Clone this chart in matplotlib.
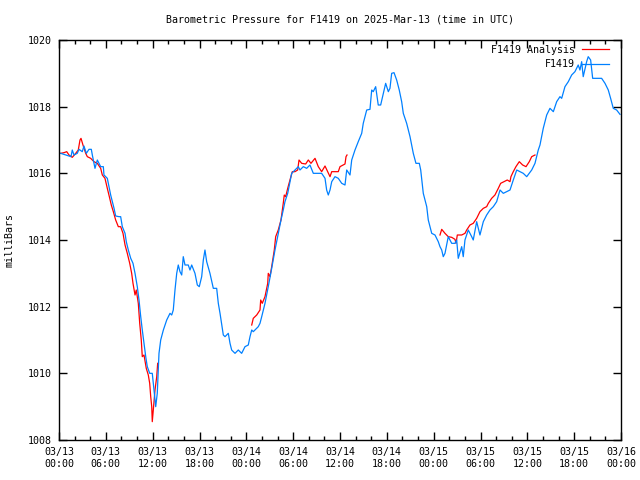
import numpy as np
import matplotlib
matplotlib.use("Agg")
import matplotlib.pyplot as plt
from matplotlib.ticker import MultipleLocator

nan = np.nan

title = "Barometric Pressure for F1419 on 2025-Mar-13 (time in UTC)"
ylabel = "milliBars"
series_names = ["F1419 Analysis", "F1419"]

# hours since 2025-03-13 00:00 UTC
obs_hours = [0.22, 0.9, 1.54, 1.70, 1.92, 2.34, 2.56, 2.98, 3.20, 3.50, 3.84, 4.14, 4.27, 4.61,
             4.91, 5.34, 5.68, 5.76, 6.19, 6.41, 6.62, 6.83, 7.05, 7.26, 7.69, 7.90, 8.11, 8.46,
             8.62, 8.88, 9.19, 9.48, 9.74, 10.03, 10.25, 10.47, 10.67, 10.89, 11.11, 11.31, 11.62,
             11.95, 12.17, 12.39, 12.59, 12.81, 13.03, 13.37, 13.80, 14.22, 14.44, 14.64, 14.86,
             15.08, 15.28, 15.50, 15.72, 15.92, 16.14, 16.56, 16.78, 17.00, 17.42, 17.72, 17.97,
             18.28, 18.49, 18.70, 18.92, 19.34, 19.77, 20.20, 20.41, 20.63, 21.05, 21.27, 21.69,
             21.91, 22.12, 22.55, 22.97, 23.40, 23.83, 24.25, 24.47, 24.69, 24.89, 25.33, 25.53,
             25.75, 25.97, 26.39, 26.81, 27.25, 27.67, 28.09, 28.44, 28.73, 28.95, 29.30, 29.59,
             29.81, 30.23, 30.66, 30.87, 31.30, 31.73, 32.15, 32.58, 33.22, 33.65, 34.08, 34.29,
             34.50, 34.72, 34.94, 35.36, 35.78, 36.22, 36.64, 36.86, 37.28, 37.50, 37.92, 38.34,
             38.78, 38.98, 39.42, 39.84, 40.06, 40.26, 40.57, 40.90, 41.21, 41.55, 41.85, 42.19,
             42.40, 42.62, 42.92, 43.26, 43.59, 43.90, 44.11, 44.54, 44.97, 45.39, 45.73, 46.16,
             46.34, 46.67, 47.11, 47.31, 47.75, 48.17, 48.59, 48.81, 49.03, 49.23, 49.45, 49.87,
             50.31, 50.73, 50.95, 51.15, 51.59, 51.79, 52.01, 52.43, 52.87, 53.07, 53.51, 53.93,
             54.36, 54.79, 55.21, 55.64, 56.07, 56.50, 56.92, 57.35, 57.78, 58.20, 58.64, 59.06,
             59.48, 59.92, 60.56, 60.98, 61.40, 61.62, 62.04, 62.48, 62.90, 63.33, 63.76, 64.18,
             64.40, 64.82, 65.25, 65.68, 66.10, 66.52, 66.74, 66.96, 67.16, 67.60, 67.80, 68.11,
             68.37, 68.88, 69.52, 69.95, 70.37, 70.67, 71.01, 71.44, 71.87]
obs_values = [1016.6, 1016.55, 1016.5, 1016.7, 1016.55, 1016.6, 1016.72, 1016.65, 1016.82, 1016.6,
              1016.72, 1016.72, 1016.55, 1016.15, 1016.4, 1016.2, 1016.2, 1015.95, 1015.85, 1015.6,
              1015.35, 1015.15, 1014.95, 1014.72, 1014.7, 1014.7, 1014.4, 1014.2, 1013.95, 1013.7,
              1013.45, 1013.3, 1013.0, 1012.6, 1012.2, 1011.7, 1011.3, 1010.9, 1010.5, 1010.2,
              1010.0, 1010.0, 1009.5, 1009.0, 1009.4, 1010.6, 1011.0, 1011.3, 1011.6, 1011.8,
              1011.75, 1011.9, 1012.5, 1013.0, 1013.25, 1013.05, 1012.95, 1013.5, 1013.25, 1013.25,
              1013.1, 1013.25, 1013.0, 1012.65, 1012.6, 1012.9, 1013.4, 1013.7, 1013.35, 1013.0,
              1012.55, 1012.55, 1012.1, 1011.8, 1011.15, 1011.1, 1011.2, 1010.9, 1010.7, 1010.6,
              1010.7, 1010.6, 1010.8, 1010.85, 1011.1, 1011.3, 1011.25, 1011.35, 1011.4, 1011.5,
              1011.7, 1012.1, 1012.6, 1013.15, 1013.7, 1014.2, 1014.6, 1014.9, 1015.15, 1015.4,
              1015.75, 1016.0, 1016.1, 1016.2, 1016.1, 1016.2, 1016.15, 1016.25, 1016.0, 1016.0,
              1016.0, 1015.85, 1015.5, 1015.35, 1015.5, 1015.75, 1015.9, 1015.85, 1015.7, 1015.65,
              1016.1, 1015.95, 1016.4, 1016.7, 1016.95, 1017.2, 1017.5, 1017.9, 1017.92, 1018.5,
              1018.45, 1018.6, 1018.05, 1018.05, 1018.4, 1018.7, 1018.45, 1018.55, 1019.0, 1019.02,
              1018.8, 1018.5, 1018.15, 1017.8, 1017.5, 1017.1, 1016.6, 1016.3, 1016.3, 1016.1,
              1015.4, 1015.0, 1014.6, 1014.2, 1014.15, 1013.95, 1013.8, 1013.7, 1013.5, 1013.6,
              1014.1, 1013.9, 1013.9, 1014.0, 1013.45, 1013.8, 1013.5, 1014.0, 1014.3, 1014.1,
              1014.0, 1014.55, 1014.15, 1014.55, 1014.75, 1014.9, 1015.0, 1015.15, 1015.5, 1015.4,
              1015.45, 1015.5, 1015.8, 1016.1, 1016.05, 1016.0, 1015.9, 1016.1, 1016.3, 1016.7,
              1016.85, 1017.35, 1017.75, 1017.95, 1017.85, 1018.15, 1018.3, 1018.25, 1018.6,
              1018.75, 1018.95, 1019.05, 1019.25, 1019.1, 1019.35, 1018.9, 1019.35, 1019.5, 1019.4,
              1018.85, 1018.85, 1018.85, 1018.7, 1018.5, 1018.25, 1017.95, 1017.9, 1017.77]

# analysis series, NaN marks gaps between runs
ana_hours = [0.22, 0.64, 0.99, 1.28, 1.70, 2.14, 2.47, 2.69, 2.82, 3.07, 3.42, 3.63, 4.06, 4.48,
             4.91, 5.34, 5.55, 5.89, 6.19, 6.50, 6.70, 6.96, 7.26, 7.60, 7.90, 8.20, 8.46, 8.75,
             9.06, 9.31, 9.48, 9.74, 9.90, 10.16, 10.34, 10.54, 10.67, 10.89, 11.18, 11.44, 11.62,
             11.75, 11.88, 11.95, 12.08, 12.30, 12.52, 12.64,
             18.0,
             24.69, 24.89, 25.33, 25.75, 25.84, 26.04, 26.39, 26.74, 26.81, 27.03, 27.25, 27.58,
             27.76, 28.09, 28.44, 28.73, 28.86, 29.04, 29.30, 29.59, 29.89, 30.23, 30.58, 30.75,
             31.09, 31.60, 31.94, 32.28, 32.80, 33.22, 33.65, 34.08, 34.42, 34.72, 34.94, 35.78,
             36.00, 36.64, 36.77, 36.90,
             42.0,
             48.81, 49.03, 49.45, 49.87, 50.31, 50.73, 50.86, 51.03, 51.59, 52.01, 52.23, 52.65,
             53.07, 53.51, 53.93, 54.36, 54.79, 55.00, 55.43, 55.85, 56.28, 56.58, 57.01, 57.43,
             57.78, 57.90, 58.20, 58.54, 58.97, 59.40, 59.83, 60.25, 60.56, 60.98]
ana_values = [1016.6, 1016.62, 1016.65, 1016.55, 1016.48, 1016.6, 1016.7, 1017.0, 1017.05, 1016.85,
              1016.6, 1016.5, 1016.45, 1016.35, 1016.3, 1016.15, 1015.95, 1015.85, 1015.55, 1015.25,
              1015.05, 1014.85, 1014.6, 1014.4, 1014.4, 1014.2, 1013.85, 1013.6, 1013.3, 1013.0,
              1012.7, 1012.35, 1012.5, 1012.1, 1011.5, 1011.0, 1010.5, 1010.55, 1010.15, 1009.95,
              1009.7, 1009.3, 1009.0, 1008.55, 1008.9, 1009.5, 1009.9, 1010.3,
              nan,
              1011.45, 1011.65, 1011.75, 1011.9, 1012.2, 1012.1, 1012.3, 1012.7, 1013.0, 1012.9,
              1013.2, 1013.7, 1014.1, 1014.3, 1014.6, 1015.1, 1015.35, 1015.3, 1015.55, 1015.8,
              1016.05, 1016.05, 1016.1, 1016.4, 1016.3, 1016.28, 1016.4, 1016.3, 1016.45, 1016.2,
              1016.05, 1016.22, 1016.05, 1015.9, 1016.05, 1016.05, 1016.2, 1016.28, 1016.5, 1016.55,
              nan,
              1014.15, 1014.32, 1014.2, 1014.1, 1014.08, 1014.02, 1013.9, 1014.15, 1014.15, 1014.2,
              1014.3, 1014.45, 1014.5, 1014.65, 1014.85, 1014.95, 1015.0, 1015.1, 1015.25, 1015.35,
              1015.55, 1015.7, 1015.75, 1015.8, 1015.75, 1015.9, 1016.05, 1016.2, 1016.35, 1016.25,
              1016.2, 1016.35, 1016.5, 1016.55]

xtick_hours = [0, 6, 12, 18, 24, 30, 36, 42, 48, 54, 60, 66, 72]
xtick_labels = ["03/13\n00:00", "03/13\n06:00", "03/13\n12:00", "03/13\n18:00",
                "03/14\n00:00", "03/14\n06:00", "03/14\n12:00", "03/14\n18:00",
                "03/15\n00:00", "03/15\n06:00", "03/15\n12:00", "03/15\n18:00",
                "03/16\n00:00"]

plt.rcParams['font.family'] = ['DejaVu Sans Mono']
fs = 7.2

fig = plt.figure(figsize=(6.4, 4.8), dpi=100)
ax = fig.add_axes([59/640, 40/480, 562/640, 400/480])

ax.plot(ana_hours, ana_values, color='#ff0000', lw=0.9, label=series_names[0])
ax.plot(obs_hours, obs_values, color='#0080ff', lw=0.9, label=series_names[1])

ax.set_xlim(0, 72)
ax.set_ylim(1008, 1020)
ax.set_xticks(xtick_hours)
ax.set_xticklabels(xtick_labels, fontsize=fs, linespacing=1.3)
ax.xaxis.set_minor_locator(MultipleLocator(2))
ax.set_yticks(np.arange(1008, 1021, 2))
ax.tick_params(axis='y', labelsize=fs)
ax.tick_params(which='major', direction='in', length=6, width=1, top=True, right=True, pad=5)
ax.tick_params(which='minor', direction='in', length=3, width=1, top=True, right=True)
for s in ax.spines.values():
    s.set_linewidth(1.0)
    s.set_color('black')

leg = ax.legend(loc='upper right', bbox_to_anchor=(1 - 12/562, 1 - 5/400),
                frameon=False, markerfirst=False, fontsize=fs,
                handlelength=2.7, handletextpad=0.7, labelspacing=0.45,
                borderaxespad=0.0, borderpad=0.0)
for t in leg.get_texts():
    t.set_ha('right')

fig.text(340/640, 1 - 19/480, title, ha='center', va='center', fontsize=fs)
fig.text(10/640, 0.5, ylabel, rotation=90, ha='center', va='center', fontsize=fs)

fig.savefig('out.png', dpi=100)
